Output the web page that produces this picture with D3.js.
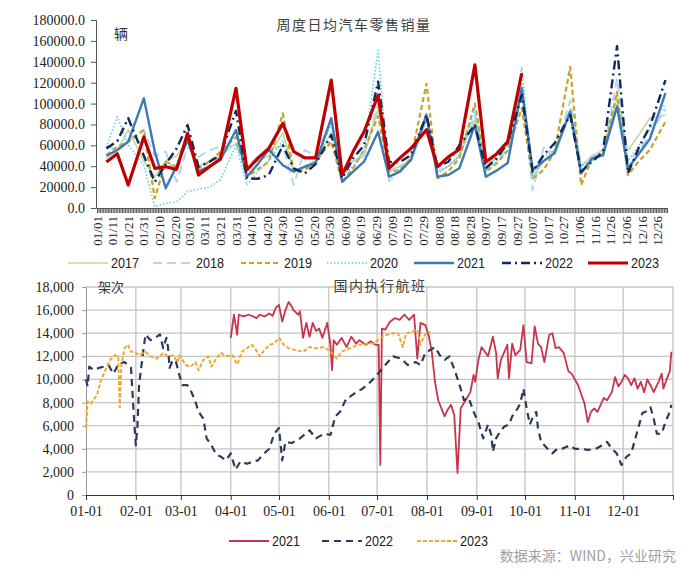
<!DOCTYPE html>
<html><head><meta charset="utf-8">
<script src="https://cdn.jsdelivr.net/npm/d3@7"></script>
<style>body{margin:0;background:#fff;} svg{display:block}
.serif{font-family:"Liberation Serif","Times New Roman",serif;}
.narrow{font-family:"Liberation Sans","Arial",sans-serif;}
.cjk{font-family:"Noto Sans CJK SC",sans-serif;}
</style>
</head><body><svg id="c" width="700" height="579"></svg>
<script>
// ---------- Top chart data: weekly daily-average car retail sales ----------
const weekDates = ["01-07","01-14","01-21","01-31","02-07","02-14","02-21","02-28",
 "03-07","03-14","03-21","03-31","04-07","04-14","04-21","04-30",
 "05-07","05-14","05-21","05-31","06-07","06-14","06-21","06-30",
 "07-07","07-14","07-21","07-31","08-07","08-14","08-21","08-31",
 "09-07","09-14","09-21","09-30","10-07","10-14","10-21","10-31",
 "11-07","11-14","11-21","11-30","12-07","12-14","12-21","12-31"];
const sales2017 = [48000,55000,75000,45000, 30000,45000,50000,65000, 40000,45000,50000,62000, 40000,45000,50000,72000,
 35000,40000,45000,72000, 35000,45000,50000,95000, 35000,40000,45000,85000, 35000,40000,50000,85000,
 40000,50000,60000,118000, 30000,45000,55000,95000, 40000,50000,55000,105000, 55000,70000,86000,89000];
const sales2018 = [60000,55000,65000,75000, 50000,54000,25000,58000, 49000,55500,58700,60000, 40000,49000,55000,60000,
 22000,55500,50000,84000, 35000,45000,50000,100000, 35000,40000,45000,92000, 35000,40000,50000,89000,
 40000,48000,55000,120000, 17000,58000,52000,103000, 40000,50000,50000,124000, 45000,55000,70000,95000];
const sales2019 = [50700,58700,63500,74700, 9300,44300,39500,70000, 38000,44000,54000,68000, 30000,37000,44300,90600,
 34800,36400,44300,63500, 25200,38000,55500,88000, 34800,36400,47600,119000, 28400,35000,47600,100000,
 34800,42800,55000,95500, 28400,36400,54000,135000, 22000,47600,50700,111000, 31600,45000,55500,82600];
const sales2020 = [58000,87400,60000,41000, 1200,4500,6000,15600, 18000,20000,27000,60000, 22000,35000,45000,65000,
 35000,40000,45000,80000, 30000,40000,55000,151000, 25000,38000,45000,85000, 33000,40000,50000,95000,
 35000,45000,55000,135000, 27000,50000,55000,90000, 40000,45000,50000,100000, 45000,60000,75000,100000];
const sales2021 = [50000,55500,63500,105000, 54000,19000,40000,65000, 35000,40000,46000,74700, 30000,42000,56000,41000,
 35000,39500,43000,86000, 25000,34800,44300,73000, 30000,34800,46000,89000, 30000,31600,38000,79500,
 30000,36000,43000,114600, 36400,45000,52400,92200, 33200,47600,50700,97000, 38000,52000,66000,110000];
const sales2022 = [57000,64000,86000,50000, 25000,42000,57000,79500, 39500,44300,50700,93000, 28400,28000,31600,60000,
 38000,33000,42000,70000, 28400,47600,60000,121000, 44000,44000,50700,89000, 39500,44300,60000,79500,
 38000,47600,62000,108000, 34800,50700,62000,89000, 34800,44300,54000,155000, 33200,58000,78000,122500];
const sales2023 = [44000,52000,22000,68000, 38000,39500,37000,71500, 31600,39500,47000,114600, 36400,47600,57000,81000,
 54000,48000,48000,122500, 31600,54000,73000,108000, 38000,48000,57000,75000, 39500,49000,56000,137000,
 44000,52000,63500,129000, null,null,null,null, null,null,null,null, null,null,null,null];
const salesYears = ["2017","2018","2019","2020","2021","2022","2023"];
const topTickLabels = ["01/01","01/11","01/21","01/31","02/10","02/20","03/01","03/11","03/21","03/31",
 "04/10","04/20","04/30","05/10","05/20","05/30","06/09","06/19","06/29","07/09","07/19","07/29",
 "08/08","08/18","08/28","09/07","09/17","09/27","10/07","10/17","10/27","11/06","11/16","11/26",
 "12/06","12/16","12/26"];
const topYTicks = [0,20000,40000,60000,80000,100000,120000,140000,160000,180000];

// ---------- Bottom chart data: domestic flights executed, [day of year, value] ----------
const flights2021 = [[90,13600],[92,15600],[94,13850],[95,15600],[98,15450],[101,15600],[104,15450],[106,15300],[108,15600],[111,15450],[114,15700],[116,15500],[118,16200],[120,16450],[122,15000],[124,16000],[126,16700],[128,16300],[129,16000],[132,15600],[133,15900],[135,13600],[137,14900],[139,13700],[141,14900],[143,14200],[145,14400],[147,13600],[150,14900],[152,13000],[153,10800],[154,13400],[156,13000],[159,13600],[162,12800],[165,13700],[168,13100],[170,13400],[174,13000],[177,13300],[180,13000],[182,13000],[183,2600],[184,14400],[186,14300],[189,15000],[192,15300],[195,15150],[198,15600],[201,15150],[204,15600],[206,11800],[208,14900],[211,14700],[213,13850],[215,12400],[217,9800],[219,8200],[221,7500],[223,6800],[225,7400],[227,7800],[229,6900],[231,1900],[233,7500],[236,8200],[239,8900],[241,10400],[242,9800],[244,11700],[246,12800],[248,12400],[250,12000],[253,13700],[255,12300],[256,10100],[258,11700],[262,13000],[263,10100],[265,13100],[267,12100],[270,12550],[272,14700],[274,11500],[277,11400],[279,14600],[281,13100],[283,12800],[285,11500],[288,13850],[290,14000],[292,12700],[294,12800],[297,12300],[300,10700],[302,10500],[304,10000],[306,9500],[308,8700],[310,7900],[312,6300],[314,7200],[316,7500],[318,7200],[320,7800],[322,8400],[324,8200],[327,8900],[329,10200],[331,9400],[333,9800],[335,10400],[337,10100],[339,9500],[341,10100],[343,9200],[345,9800],[347,8900],[349,10000],[351,9500],[353,8900],[356,9800],[358,10500],[359,9200],[361,10000],[363,10700],[364,12400]];
const flights2022 = [[0,10000],[1,9400],[2,11100],[5,10800],[8,11000],[11,11100],[14,11250],[17,10500],[19,11000],[20,11400],[22,11400],[24,11500],[28,11000],[30,6300],[31,4300],[32,6000],[33,9500],[35,11800],[37,13900],[40,13400],[43,13600],[46,13900],[48,12700],[50,13600],[51,12800],[52,11000],[54,11700],[56,11500],[58,10400],[60,9500],[63,9500],[65,9100],[68,8100],[70,7200],[73,6600],[75,4900],[78,4300],[81,3500],[84,3300],[87,3000],[90,3600],[93,2200],[96,2900],[100,2700],[104,2900],[107,3000],[110,3500],[114,4000],[117,5300],[120,5800],[122,3000],[124,4600],[128,4500],[133,4900],[139,5600],[143,4900],[148,5300],[152,5200],[155,6800],[158,7200],[162,8400],[164,8500],[168,8900],[172,9200],[177,9800],[181,10400],[187,11400],[191,12000],[196,11800],[200,11250],[205,11500],[208,11250],[211,12300],[214,12550],[217,12800],[220,12100],[223,11700],[226,12000],[230,10500],[233,9200],[235,8200],[238,8400],[241,7200],[244,6300],[247,4900],[250,6100],[252,5200],[253,3750],[255,4900],[258,5600],[260,5900],[263,6100],[265,6800],[268,7400],[270,7900],[272,9200],[274,7500],[276,6100],[278,6800],[280,7200],[281,5800],[283,4600],[287,4000],[290,3600],[293,4000],[296,4000],[301,4300],[304,4000],[308,4000],[312,3900],[317,4000],[321,4300],[324,4600],[327,4000],[330,3600],[333,2600],[336,3300],[339,3600],[341,4600],[344,6100],[346,7100],[348,7200],[351,7600],[353,6600],[355,5300],[358,5300],[360,6200],[363,7200],[364,7800]];
const flights2023 = [[0,5800],[1,8100],[3,7900],[5,8300],[7,8700],[9,9800],[12,10800],[15,11700],[18,12100],[20,12000],[21,7600],[22,11250],[24,12700],[26,13000],[28,12400],[30,12400],[33,12100],[37,12400],[40,12000],[44,11800],[48,12300],[51,12000],[54,12100],[57,11500],[58,12100],[62,11250],[65,11100],[68,11500],[70,10800],[73,11700],[76,12000],[78,11100],[81,11800],[84,12300],[87,12000],[91,12100],[94,11300],[97,12400],[100,12700],[103,13000],[105,12700],[108,12000],[111,12550],[114,13000],[117,13100],[120,13600],[123,13000],[126,12700],[130,12550],[135,12400],[139,12800],[143,12700],[148,12800],[152,12400],[156,11800],[159,12400],[164,12700],[169,13000],[175,13100],[179,13100],[183,13600],[187,13850],[191,14000],[194,14000],[197,12800],[199,14000],[202,14100],[206,14300],[208,13000],[210,13700],[212,14100],[214,14100]];
const flightYears = ["2021","2022","2023"];
const monthLabels = ["01-01","02-01","03-01","04-01","05-01","06-01","07-01","08-01","09-01","10-01","11-01","12-01"];
const flightYTicks = [0,2000,4000,6000,8000,10000,12000,14000,16000,18000];

// ---------- drawing ----------
const svg = d3.select("#c");
const y0 = new Date(2021,0,1), y1 = new Date(2022,0,1);
const parseMD = d3.timeParse("%Y-%m-%d");
const dateOf = md => parseMD("2021-" + md);

// ===== TOP =====
const xT = d3.scaleTime().domain([y0, y1]).range([97, 667]);
const yT = d3.scaleLinear().domain([0, 180000]).range([208, 20]);
const topSeries = [sales2017, sales2018, sales2019, sales2020, sales2021, sales2022, sales2023];
const topStyle = [
  {c:"#c3d69b", w:1.6, d:null},
  {c:"#b9d3ec", w:2, d:"9,5"},
  {c:"#c9a227", w:2.2, d:"5,3"},
  {c:"#5fd0dc", w:1.6, d:"1.5,2"},
  {c:"#3a7ab5", w:2.4, d:null},
  {c:"#0f2a5a", w:2.4, d:"9,4,2,4"},
  {c:"#c00000", w:3.2, d:null}
];
const gT = svg.append("g");
const xAxisT = d3.axisBottom(xT).ticks(d3.timeDay.every(1)).tickSize(5).tickFormat("");
gT.append("g").attr("transform","translate(0,208)").call(xAxisT)
  .call(g=>{g.select(".domain").attr("stroke","#555");g.selectAll(".tick line").attr("stroke","#555").attr("stroke-width",1);});
const yAxisT = d3.axisLeft(yT).tickValues(topYTicks).tickSize(5).tickFormat(d3.format(".1f"));
gT.append("g").attr("transform","translate(96,0)").call(yAxisT)
  .call(g=>{g.attr("font-family",null);g.select(".domain").attr("stroke","#555");g.selectAll(".tick line").attr("stroke","#555");
    g.selectAll("text").attr("class","serif").style("font-size","14px").attr("fill","#222").attr("x",-11);});
gT.selectAll("text.xl").data(topTickLabels).join("text").attr("class","xl serif")
  .attr("transform", d => `translate(${xT(parseMD("2021-"+d.replace("/","-")))},216) rotate(-90)`)
  .attr("text-anchor","end").attr("dy","0.35em")
  .style("font-size","13px").attr("fill","#222").text(d=>d);
const lineT = d3.line().defined(d=>d.v!=null).x(d=>xT(d.t)).y(d=>yT(d.v));
topSeries.forEach((s,i)=>{
  const data = weekDates.map((md,k)=>({t:dateOf(md), v:s[k]}));
  gT.append("path").datum(data).attr("d",lineT).attr("fill","none")
    .attr("stroke",topStyle[i].c).attr("stroke-width",topStyle[i].w)
    .attr("stroke-dasharray",topStyle[i].d).attr("stroke-linejoin","round");
});
gT.append("text").attr("class","cjk").attr("x",354).attr("y",30).attr("text-anchor","middle")
  .style("font-size","14px").attr("letter-spacing",1.5).attr("fill","#404040").text("周度日均汽车零售销量");
gT.append("text").attr("class","cjk").attr("x",114).attr("y",39).style("font-size","14px").attr("fill","#333").text("辆");
const legT = [68,153,241,327,414,502,588];
salesYears.forEach((yr,i)=>{
  const lx = legT[i];
  gT.append("line").attr("x1",lx).attr("x2",lx+40).attr("y1",263).attr("y2",263)
    .attr("stroke",topStyle[i].c).attr("stroke-width",topStyle[i].w).attr("stroke-dasharray",topStyle[i].d);
  gT.append("text").attr("class","narrow").attr("x",lx+43).attr("y",263).attr("dy","0.35em")
    .attr("textLength",28).attr("lengthAdjust","spacingAndGlyphs")
    .style("font-size","15px").attr("fill","#222").text(yr);
});

// ===== BOTTOM =====
const xB = d3.scaleTime().domain([y0, y1]).range([86, 673]);
const yB = d3.scaleLinear().domain([0, 18000]).range([495, 287]);
const gB = svg.append("g");
gB.selectAll("line.hg").data(flightYTicks.slice(1)).join("line").attr("class","hg")
  .attr("x1",86).attr("x2",673).attr("y1",d=>yB(d)).attr("y2",d=>yB(d)).attr("stroke","#c4c4c4").attr("stroke-width",1.3);
const monthDates = monthLabels.map(dateOf);
gB.selectAll("line.vg").data(monthDates.slice(1).concat([y1])).join("line").attr("class","vg")
  .attr("x1",d=>xB(d)).attr("x2",d=>xB(d)).attr("y1",287).attr("y2",495).attr("stroke","#c4c4c4").attr("stroke-width",1.3);
const yAxisB = d3.axisLeft(yB).tickValues(flightYTicks).tickSize(4).tickFormat(d3.format(","));
gB.append("g").attr("transform","translate(86,0)").call(yAxisB)
  .call(g=>{g.attr("font-family",null);g.select(".domain").attr("stroke","#999");g.selectAll(".tick line").attr("stroke","#999");
    g.selectAll("text").attr("class","serif").style("font-size","14px").attr("fill","#222").attr("x",-12);});
const xAxisB = d3.axisBottom(xB).tickValues(monthDates.concat([y1])).tickSize(5).tickFormat((d,i)=>monthLabels[i]||"");
gB.append("g").attr("transform","translate(0,495)").call(xAxisB)
  .call(g=>{g.attr("font-family",null);g.select(".domain").attr("stroke","#333");g.selectAll(".tick line").attr("stroke","#333");
    g.selectAll("text").attr("class","serif").style("font-size","14px").attr("fill","#222").attr("dy","0.95em");});
const flightSeries = [flights2021, flights2022, flights2023];
const bStyle = [
  {c:"#c8344c", w:1.8, d:null},
  {c:"#2d3b5b", w:2.2, d:"7,5"},
  {c:"#f0a82c", w:2, d:"4,2"}
];
const lineB = d3.line().x(d=>xB(d3.timeDay.offset(y0,d[0]))).y(d=>yB(d[1]));
flightSeries.forEach((s,i)=>{
  gB.append("path").datum(s).attr("d",lineB).attr("fill","none")
    .attr("stroke",bStyle[i].c).attr("stroke-width",bStyle[i].w).attr("stroke-dasharray",bStyle[i].d)
    .attr("stroke-linejoin","round");
});
gB.append("text").attr("class","cjk").attr("x",380).attr("y",291).attr("text-anchor","middle")
  .style("font-size","14px").attr("letter-spacing",1.5).attr("fill","#404040").text("国内执行航班");
gB.append("text").attr("class","cjk").attr("x",98).attr("y",292).style("font-size","13px").attr("fill","#333").text("架次");
const legB = [229,322,417];
flightYears.forEach((yr,i)=>{
  const lx = legB[i];
  gB.append("line").attr("x1",lx).attr("x2",lx+40).attr("y1",541).attr("y2",541)
    .attr("stroke",bStyle[i].c).attr("stroke-width",bStyle[i].w).attr("stroke-dasharray",bStyle[i].d);
  gB.append("text").attr("class","narrow").attr("x",lx+43).attr("y",541).attr("dy","0.35em")
    .attr("textLength",28).attr("lengthAdjust","spacingAndGlyphs")
    .style("font-size","15px").attr("fill","#222").text(yr);
});
svg.append("text").attr("class","cjk").attr("x",676).attr("y",561).attr("text-anchor","end")
  .style("font-size","14px").attr("fill","#a0a0a0").text("数据来源：WIND，兴业研究");
</script></body></html>
